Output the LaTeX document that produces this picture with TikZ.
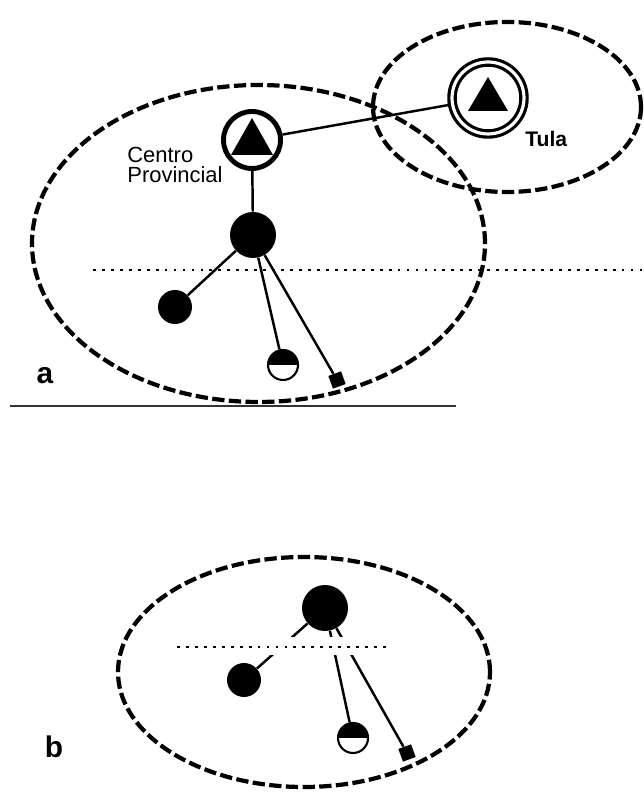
\documentclass[tikz,border=0pt]{standalone}
\usepackage{fontspec}
\setmainfont{Liberation Sans}
\begin{document}
\begin{tikzpicture}[x=0.02cm, y=0.02cm,
        zone/.style={line width=2.4pt, dash pattern=on 7pt off 2.5pt},
        limit/.style={line width=1.6pt, dash pattern=on 1.6pt off 3.5pt},
        link/.style={line width=1.4pt},
        town/.style={circle, fill=black, inner sep=0pt, minimum size=0.92cm},
        village/.style={circle, fill=black, inner sep=0pt, minimum size=0.68cm},
        halfdot/.style={circle, draw, fill=white, line width=1.2pt, inner sep=0pt, minimum size=0.6cm,
            path picture={\fill[black] (path picture bounding box.west) rectangle (path picture bounding box.north east);}},
        farm/.style={rectangle, fill=black, inner sep=0pt, minimum size=0.27cm, rotate=20},
        capital/.style={circle, draw, fill=white, line width=2.8pt, inner sep=0pt, minimum size=1.14cm,
            path picture={\fill[black, shift={(path picture bounding box.center)}] (0,22) -- (21,-15) -- (-21,-15) -- cycle;}},
        bigcapital/.style={circle, draw, fill=white, line width=1.8pt, double, double distance=1.8pt, inner sep=0pt, minimum size=1.44cm,
            path picture={\fill[black, shift={(path picture bounding box.center)}] (0,21) -- (20,-13) -- (-20,-13) -- cycle;}},
        tag/.style={font=\bfseries\fontsize{17pt}{17pt}\selectfont, inner sep=0pt}]
        \useasboundingbox (0,0) rectangle (644,793);

        % a
        \draw[zone] (258.5,549.5) ellipse [x radius=226.5, y radius=158.5];
        \draw[zone] (507,686) ellipse [x radius=134, y radius=85];
        \draw[limit] (93,523) -- (644,523);
        \draw[line width=1.2pt, black!80] (10,387) -- (456,387);
        \node[capital] (capA) at (252,653) {};
        \node[bigcapital] (tula) at (488,695) {};
        \node[town] (townA) at (253,558) {};
        \node[village] (villageA) at (175,486) {};
        \node[halfdot] (halfA) at (283,428) {};
        \node[farm] (farmA) at (337,413) {};
        \draw[link] (capA) -- (tula);
        \draw[link] (capA) -- (townA);
        \draw[link] (townA) -- (villageA);
        \draw[link] (townA) -- (halfA);
        \draw[link] (townA) -- (farmA);
        \node[anchor=north west, align=left, inner sep=0pt, font=\fontsize{12.5pt}{11.3pt}\selectfont] (centro) at (127,646) {Centro\\Provincial};
        \node[anchor=north west, inner sep=0pt, font=\bfseries\fontsize{12pt}{12pt}\selectfont] (tulaname) at (525,662) {Tula};
        \node[tag] (tagA) at (45,417) {a};

        % b
        \draw[zone] (304,121) ellipse [x radius=186, y radius=115];
        \node[town] (townB) at (325,185) {};
        \node[village] (villageB) at (244,113) {};
        \node[halfdot] (halfB) at (353,55) {};
        \node[farm] (farmB) at (407,40) {};
        \draw[link] (townB) -- (villageB);
        \draw[link] (townB) -- (halfB);
        \draw[link] (townB) -- (farmB);
        \fill[white] (266,138) rectangle (362,156);
        \draw[limit] (177,146) -- (390,146);
        \node[tag] (tagB) at (54,46) {b};
    \end{tikzpicture}
\end{document}
